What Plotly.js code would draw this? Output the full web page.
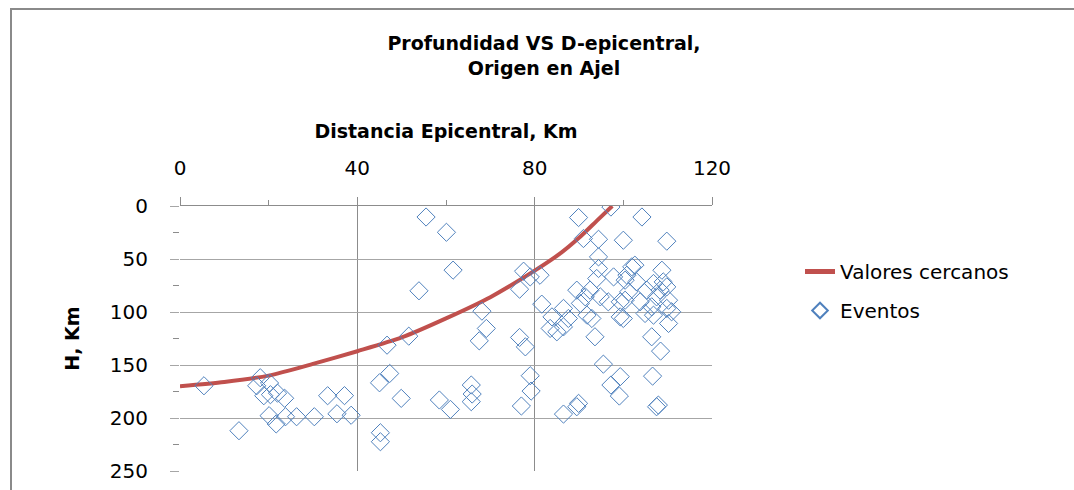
<!DOCTYPE html>
<html>
<head>
<meta charset="utf-8">
<script src="https://cdn.plot.ly/plotly-3.0.1.min.js"></script>
<style>
  html, body { margin: 0; padding: 0; background: #ffffff; }
  #wrap { position: relative; width: 1074px; height: 490px; }
  #chart { width: 1074px; height: 490px; }
  #frame { position: absolute; left: 10px; top: 8px; right: 0; bottom: 0;
           border-left: 2px solid #8a8a8a; border-top: 2px solid #8a8a8a; pointer-events: none; }
</style>
</head>
<body>
<div id="wrap">
  <div id="chart"></div>
  <div id="frame"></div>
</div>
<script>
// ---- Data ----
const chartTitle = 'Profundidad VS D-epicentral,<br>Origen en Ajel';
const xTitle = 'Distancia Epicentral, Km';
const yTitle = 'H, Km';
const curveName = 'Valores cercanos';
const eventsName = 'Eventos';

// "Valores cercanos" curve (distance, depth)
const curveDist  = [0, 10, 20, 30, 40, 50, 60, 70, 80, 86, 90, 94, 97.5];
const curveDepth = [170, 166, 160, 149, 137, 124, 106, 86, 61, 44, 30, 14, 0];

// "Eventos" scatter points (distance, depth)
const eventDist = [
  5.4, 18.1, 17.3, 20.2, 18.9, 20.4, 22.0, 23.6, 13.3, 20.1,
  21.7, 23.8, 26.3, 30.3, 33.3, 37.1, 35.4, 38.6,
  55.5, 60.1, 61.6, 53.9, 46.7, 51.6, 68.1, 69.1, 67.5, 77.5,
  79.0, 76.6, 81.2, 81.6, 76.6, 77.9, 47.3, 45.0, 49.9, 58.5,
  61.0, 65.7, 65.9, 65.7, 79.0, 79.2, 77.0, 45.2, 45.2,
  97.2, 89.9, 91.0, 94.4, 100.0, 94.4, 104.2, 109.8, 101.9, 108.7, 102.6,
  94.4, 94.0, 97.8, 100.8, 89.5, 92.5, 91.4, 94.8, 96.6, 99.3,
  86.5, 90.3, 83.9, 87.6, 91.8, 92.9, 99.3, 85.0, 83.5, 86.5, 93.6,
  103.0, 100.4, 106.8, 109.0, 109.8, 108.3, 105.3, 101.2, 110.2, 100.4,
  107.5, 103.8, 106.4, 109.8, 110.9, 104.9, 106.8, 100.0, 110.2, 106.4, 108.4,
  95.5, 99.3, 97.2, 99.1, 106.6, 89.9, 89.5, 86.5, 107.5, 107.9
];
const eventDepth = [
  169.6, 162.0, 169.6, 167.0, 179.0, 178.0, 176.6, 181.4, 212.0, 197.8,
  205.6, 198.8, 198.8, 198.8, 179.0, 178.9, 196.0, 197.4,
  10.4, 24.8, 60.5, 80.0, 131.3, 122.8, 99.2, 115.5, 127.2, 61.5,
  66.9, 78.5, 65.3, 92.6, 124.0, 132.9, 158.0, 166.8, 181.5, 183.0,
  191.9, 168.9, 177.4, 184.6, 160.1, 174.6, 188.7, 213.9, 222.4,
  1.0, 10.9, 30.7, 31.4, 32.3, 48.0, 10.4, 33.2, 57.4, 60.6, 55.8,
  59.0, 68.4, 66.9, 65.3, 79.4, 79.4, 85.7, 85.7, 90.4, 90.4,
  96.6, 91.9, 104.6, 106.1, 103.0, 106.1, 104.6, 118.7, 115.5, 114.0, 123.4,
  71.6, 70.0, 73.1, 71.6, 76.3, 79.4, 79.4, 81.0, 88.9, 88.9,
  85.7, 90.4, 95.1, 96.6, 99.8, 101.4, 103.0, 106.1, 110.8, 123.4, 136.9,
  149.2, 161.0, 168.9, 179.3, 160.5, 186.2, 189.4, 196.3, 189.4, 187.8
];

const xTickVals = [0, 40, 80, 120];
const yTickVals = [0, 50, 100, 150, 200, 250];

// ---- Plot ----
const FONT = 'DejaVu Sans, Liberation Sans, sans-serif';

const traces = [
  {
    x: curveDist, y: curveDepth,
    type: 'scatter', mode: 'lines', name: curveName,
    legendgroup: 'a',
    line: { color: '#C0504D', width: 4, shape: 'spline', smoothing: 0.7 },
    hoverinfo: 'skip'
  },
  {
    x: eventDist, y: eventDepth,
    type: 'scatter', mode: 'markers', name: eventsName,
    legendgroup: 'b',
    marker: { symbol: 'diamond-open', size: 14, color: '#4F81BD', line: { width: 1, color: '#4F81BD' } },
    hoverinfo: 'skip'
  }
];

const layout = {
  width: 1074, height: 490,
  paper_bgcolor: '#ffffff', plot_bgcolor: '#ffffff',
  margin: { l: 180, r: 362, t: 206, b: 19, autoexpand: false },
  font: { family: FONT, color: '#000000', size: 20 },
  showlegend: true,
  title: {
    text: chartTitle,
    font: { family: FONT, size: 19, color: '#000000', weight: 'bold' },
    xref: 'container', x: 544 / 1074, xanchor: 'center',
    yref: 'container', y: 1 - 50 / 490, yanchor: 'top'
  },
  xaxis: {
    side: 'top',
    range: [0, 120],
    tickvals: xTickVals,
    ticktext: xTickVals.map(String),
    ticks: 'outside', ticklen: 8, tickwidth: 1, tickcolor: '#8c8c8c',
    ticklabelstandoff: 14,
    tickfont: { family: FONT, size: 20, color: '#000000' },
    showgrid: true, gridcolor: '#8c8c8c', gridwidth: 1.3,
    zeroline: true, zerolinecolor: 'rgba(0,0,0,0)', zerolinewidth: 1,
    showline: true, linecolor: '#8c8c8c', linewidth: 1.3,
    minor: { tickvals: [20, 60, 100], ticks: 'outside', ticklen: 5, tickcolor: '#8c8c8c', showgrid: false },
    title: {
      text: xTitle, standoff: 12,
      font: { family: FONT, size: 19, color: '#000000', weight: 'bold' }
    },
    automargin: false, fixedrange: true
  },
  yaxis: {
    range: [250, 0],
    tickvals: yTickVals,
    ticktext: yTickVals.map(String),
    ticks: 'outside', ticklen: 9, tickwidth: 1, tickcolor: '#a6a6a6',
    ticklabelstandoff: 18,
    tickfont: { family: FONT, size: 20, color: '#000000' },
    showgrid: true, gridcolor: '#a6a6a6', gridwidth: 1,
    zeroline: false,
    showline: false,
    minor: { dtick: 25, ticks: 'outside', ticklen: 6, tickcolor: '#8c8c8c', showgrid: false },
    title: {
      text: yTitle, standoff: 25,
      font: { family: FONT, size: 19, color: '#000000', weight: 'bold' }
    },
    automargin: false, fixedrange: true
  },
  legend: {
    x: (800 - 180) / 532, xanchor: 'left',
    y: 1 - (252 - 206) / 265, yanchor: 'top',
    bgcolor: 'rgba(0,0,0,0)', borderwidth: 0,
    font: { family: FONT, size: 20, color: '#000000' },
    tracegroupgap: 10,
    itemsizing: 'constant'
  }
};

Plotly.newPlot('chart', traces, layout, { staticPlot: true, displayModeBar: false });
</script>
</body>
</html>
